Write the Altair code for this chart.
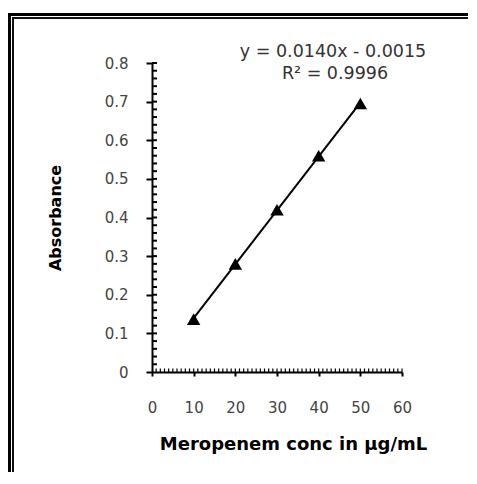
import altair as alt
import pandas as pd

# ---- data ----
conc = [10, 20, 30, 40, 50]
absorbance = [0.137, 0.28, 0.42, 0.56, 0.695]
x_ticks = [0, 10, 20, 30, 40, 50, 60]
y_ticks = [0, 0.1, 0.2, 0.3, 0.4, 0.5, 0.6, 0.7, 0.8]
x_minor = list(range(1, 61))
y_minor = [round(0.02 * i, 2) for i in range(1, 41)]
equation = "y = 0.0140x - 0.0015"
r_squared = "R² = 0.9996"
x_title = "Meropenem conc in µg/mL"
y_title = "Absorbance"

W, H = 250, 309
FONT = "DejaVu Sans"

df = pd.DataFrame({"conc": conc, "abs": absorbance})
one = alt.Data(values=[{}])

xscale = alt.Scale(domain=[0, 60], nice=False)
yscale = alt.Scale(domain=[0, 0.8], nice=False)

x_axis = alt.Axis(
    values=x_ticks, format="d", title=x_title,
    titleFont=FONT, titleFontSize=18, titleFontWeight="bold", titleColor="black",
    titleX=141, titleY=72, titleAlign="center", titleBaseline="middle",
    labelFont=FONT, labelFontSize=15, labelColor="#444", labelPadding=24,
    labelFlush=False, labelOverlap=False,
    tickSize=4, tickWidth=2, tickColor="black",
    domainColor="black", domainWidth=2, grid=False,
)
y_axis = alt.Axis(
    values=y_ticks, format=".1~f", title=y_title,
    titleFont=FONT, titleFontSize=16, titleFontWeight="bold", titleColor="black",
    titleAngle=270, titleX=-97, titleY=154.5, titleAlign="center", titleBaseline="middle",
    labelFont=FONT, labelFontSize=15, labelColor="#444", labelPadding=18,
    labelFlush=False, labelOverlap=False,
    tickSize=6, tickWidth=2, tickColor="black",
    domainColor="black", domainWidth=2, grid=False,
)


def X(field):
    return alt.X(field, type="quantitative", scale=xscale, axis=x_axis)


def Y(field):
    return alt.Y(field, type="quantitative", scale=yscale, axis=y_axis)


trend = alt.Chart(df).transform_regression("conc", "abs").mark_line(
    color="black", strokeWidth=2
).encode(x=X("conc"), y=Y("abs"))

points = alt.Chart(df).mark_point(
    shape="triangle-up", filled=True, size=180, color="black", opacity=1
).encode(x=X("conc"), y=Y("abs"))

xminor = alt.Chart(pd.DataFrame({"v": x_minor})).mark_rule(
    color="black", strokeWidth=1.2
).encode(x=X("v"), y=alt.value(H), y2=alt.value(H - 3.5))

yminor = alt.Chart(pd.DataFrame({"v": y_minor})).mark_rule(
    color="black", strokeWidth=2
).encode(y=Y("v"), x=alt.value(0), x2=alt.value(5))

eq1 = alt.Chart(one).mark_text(
    font=FONT, fontSize=17.5, color="#333", align="center", baseline="middle"
).encode(x=alt.value(181), y=alt.value(-11.5), text=alt.value(equation))

eq2 = alt.Chart(one).mark_text(
    font=FONT, fontSize=17.5, color="#333", align="center", baseline="middle"
).encode(x=alt.value(183), y=alt.value(11), text=alt.value(r_squared))

frame_outer_v = alt.Chart(one).mark_rule(color="black", strokeWidth=3).encode(
    x=alt.value(-142.5), y=alt.value(-50), y2=alt.value(H + 120))
frame_outer_h = alt.Chart(one).mark_rule(color="black", strokeWidth=3).encode(
    y=alt.value(-48.5), x=alt.value(-145), x2=alt.value(W + 80))
frame_inner_v = alt.Chart(one).mark_rule(color="#111", strokeWidth=2).encode(
    x=alt.value(-139), y=alt.value(-46), y2=alt.value(H + 120))
frame_inner_h = alt.Chart(one).mark_rule(color="#111", strokeWidth=2).encode(
    y=alt.value(-45), x=alt.value(-140), x2=alt.value(W + 80))

chart = alt.layer(
    frame_outer_v, frame_outer_h, frame_inner_v, frame_inner_h,
    xminor, yminor, trend, points, eq1, eq2,
).properties(
    width=W, height=H,
    autosize=alt.AutoSizeParams(type="none"),
    padding={"left": 144, "top": 55, "right": 66, "bottom": 100},
    background="white",
).configure_view(stroke=None)

chart.save("out.html", embed_options={"renderer": "svg", "actions": False})
